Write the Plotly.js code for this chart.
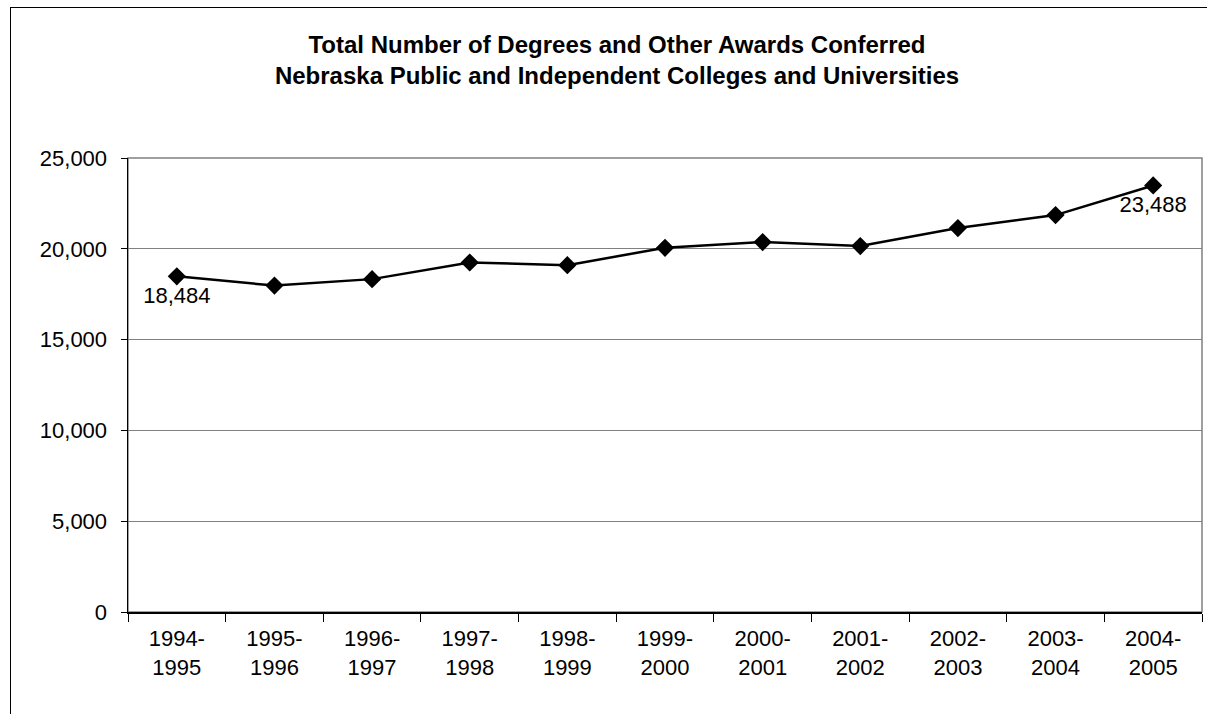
<!DOCTYPE html>
<html>
<head>
<meta charset="utf-8">
<script src="https://cdn.plot.ly/plotly-3.0.1.min.js"></script>
<style>
  html, body { margin: 0; padding: 0; background: #fff; overflow: hidden; }
  #wrap { position: relative; width: 1207px; height: 714px; }
  #chart { width: 1207px; height: 714px; }
  #frame { position: absolute; left: 10px; top: 7px; width: 1400px; height: 900px;
           border: 1px solid #000; pointer-events: none; }
</style>
</head>
<body>
<div id="wrap">
  <div id="chart"></div>
  <div id="frame"></div>
</div>
<script>
const categories = ["1994-1995","1995-1996","1996-1997","1997-1998","1998-1999","1999-2000",
                    "2000-2001","2001-2002","2002-2003","2003-2004","2004-2005"];
const tickLabels = ["1994-<br>1995","1995-<br>1996","1996-<br>1997","1997-<br>1998","1998-<br>1999",
                    "1999-<br>2000","2000-<br>2001","2001-<br>2002","2002-<br>2003","2003-<br>2004","2004-<br>2005"];
const degrees = [18484, 17975, 18330, 19245, 19100, 20055, 20370, 20150, 21140, 21857, 23488];
const pointLabels = ["18,484","","","","","","","","","","23,488"];
const yTicks = [0, 5000, 10000, 15000, 20000, 25000];

const FONT = "Arial, 'Liberation Sans', sans-serif";

const trace = {
  type: "scatter",
  mode: "lines+markers+text",
  x: categories,
  y: degrees,
  text: pointLabels,
  textposition: "bottom center",
  textfont: { family: FONT, size: 22, color: "#000" },
  line: { color: "#000", width: 2.5 },
  marker: { symbol: "diamond", size: 14, color: "#000" },
  cliponaxis: false,
  hoverinfo: "x+y"
};

const layout = {
  width: 1207, height: 714,
  margin: { l: 128, r: 5, t: 158, b: 102 },
  paper_bgcolor: "#fff",
  plot_bgcolor: "#fff",
  showlegend: false,
  font: { family: FONT, color: "#000" },
  title: {
    text: "<b>Total Number of Degrees and Other Awards Conferred<br>Nebraska Public and Independent Colleges and Universities</b>",
    font: { family: FONT, size: 24, color: "#000" },
    x: 617/1207, xref: "container", xanchor: "center",
    y: 1 - 53/714, yref: "container", yanchor: "middle"
  },
  xaxis: {
    type: "category",
    tickmode: "array",
    tickvals: categories,
    ticktext: tickLabels,
    tickson: "boundaries",
    ticks: "outside", ticklen: 8, tickcolor: "#000", tickwidth: 1,
    ticklabelstandoff: 6,
    tickfont: { family: FONT, size: 22, color: "#000" },
    showline: true, linecolor: "#000", linewidth: 1.5,
    showgrid: false,
    range: [-0.5, categories.length - 0.5],
    fixedrange: true
  },
  yaxis: {
    range: [0, 25000],
    tickmode: "array",
    tickvals: yTicks,
    tickformat: ",d",
    ticks: "outside", ticklen: 6, tickcolor: "#000", tickwidth: 1,
    ticklabelstandoff: 9,
    tickfont: { family: FONT, size: 22, color: "#000" },
    showline: true, linecolor: "#000", linewidth: 1.5,
    showgrid: true, gridcolor: "#808080", gridwidth: 1,
    zeroline: false,
    fixedrange: true
  },
  shapes: [
    { type: "rect", xref: "paper", yref: "paper", x0: 0, x1: 1, y0: 0, y1: 1,
      line: { color: "#808080", width: 1.5 }, layer: "below" }
  ]
};

Plotly.newPlot("chart", [trace], layout, { displayModeBar: false, staticPlot: true });
</script>
</body>
</html>
